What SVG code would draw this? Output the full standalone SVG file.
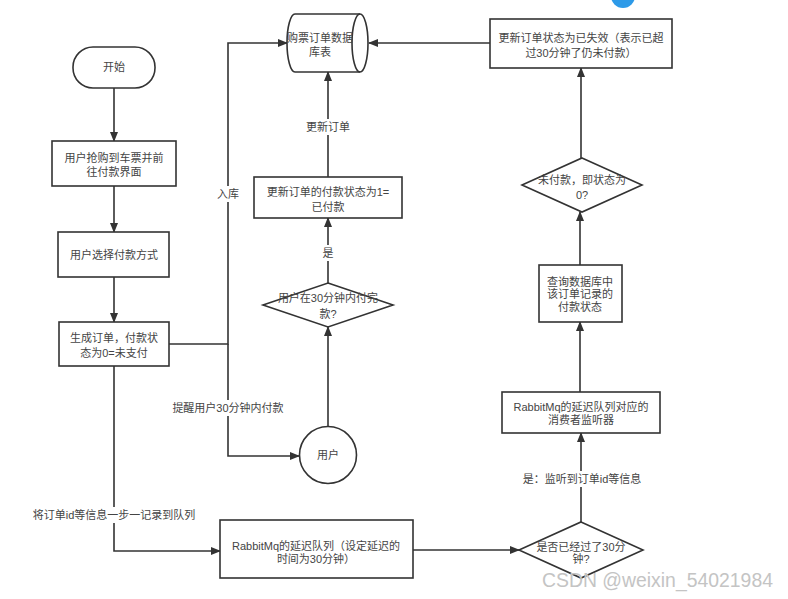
<svg xmlns="http://www.w3.org/2000/svg" width="788" height="599" viewBox="0 0 788 599">
<defs>
<marker id="ah" markerUnits="userSpaceOnUse" markerWidth="10" markerHeight="8" refX="9" refY="4" orient="auto">
<path d="M0,0 L10,4 L0,8 Z" fill="#333"/>
</marker>
<style>
.s{fill:#fff;stroke:#333;stroke-width:1.6}
.c{fill:none;stroke:#333;stroke-width:1.6}
.t{font-family:"Liberation Sans","Noto Sans CJK SC",sans-serif;font-size:11px;fill:#444;text-anchor:middle}
.bg{fill:#fff}
</style>
</defs>
<rect width="788" height="599" fill="#fff"/>
<circle cx="623" cy="-4" r="12" fill="#2d9ae8"/>
<g id="connectors">
<path class="c" d="M114,88 V141" marker-end="url(#ah)"/>
<path class="c" d="M114,186 V232" marker-end="url(#ah)"/>
<path class="c" d="M114,277 V322" marker-end="url(#ah)"/>
<path class="c" d="M169,344 H228 V43 H287" marker-end="url(#ah)"/>
<path class="c" d="M228,344 V456 H299" marker-end="url(#ah)"/>
<path class="c" d="M328,427 V327" marker-end="url(#ah)"/>
<path class="c" d="M328,283 V218" marker-end="url(#ah)"/>
<path class="c" d="M328,177 V72" marker-end="url(#ah)"/>
<path class="c" d="M114,366 V551 H220" marker-end="url(#ah)"/>
<path class="c" d="M413,550 H519" marker-end="url(#ah)"/>
<path class="c" d="M581,522 V433" marker-end="url(#ah)"/>
<path class="c" d="M580,392 V322" marker-end="url(#ah)"/>
<path class="c" d="M580,265 V212" marker-end="url(#ah)"/>
<path class="c" d="M581,158 V68" marker-end="url(#ah)"/>
<path class="c" d="M490,43 H369" marker-end="url(#ah)"/>
<rect class="bg" x="215" y="186" width="26" height="16"/>
<text class="t" x="228" y="198">入库</text>
<rect class="bg" x="171" y="400" width="114" height="16"/>
<text class="t" x="228" y="412">提醒用户30分钟内付款</text>
<rect class="bg" x="318" y="245" width="20" height="16"/>
<text class="t" x="328" y="257">是</text>
<rect class="bg" x="305" y="119" width="46" height="16"/>
<text class="t" x="328" y="131">更新订单</text>
<rect class="bg" x="32" y="507" width="164" height="16"/>
<text class="t" x="114" y="519">将订单id等信息一步一记录到队列</text>
<rect class="bg" x="520" y="471" width="124" height="16"/>
<text class="t" x="582" y="483">是：监听到订单id等信息</text>
</g>
<g id="start">
<rect class="s" x="73" y="47" width="82" height="41" rx="20" ry="20"/>
<text class="t" x="114" y="71">开始</text>
</g>
<g id="grab">
<rect class="s" x="52" y="141" width="124" height="45"/>
<text class="t" x="114" y="162">用户抢购到车票并前</text>
<text class="t" x="114" y="176">往付款界面</text>
</g>
<g id="choose">
<rect class="s" x="58" y="232" width="111" height="45"/>
<text class="t" x="114" y="259">用户选择付款方式</text>
</g>
<g id="create">
<rect class="s" x="59" y="322" width="110" height="44"/>
<text class="t" x="114" y="342">生成订单，付款状</text>
<text class="t" x="114" y="357">态为0=未支付</text>
</g>
<g id="db">
<path class="s" d="M295,14 H360 A8,29 0 0 1 360,72 H295 A8,29 0 0 1 295,14 Z"/>
<path class="c" d="M360,14 A8,29 0 0 0 360,72"/>
<text class="t" x="320" y="42">购票订单数据</text>
<text class="t" x="320" y="56">库表</text>
</g>
<g id="paid">
<rect class="s" x="254" y="177" width="148" height="41"/>
<text class="t" x="328" y="196">更新订单的付款状态为1=</text>
<text class="t" x="328" y="211">已付款</text>
</g>
<g id="check30">
<path class="s" d="M328,283 L393,305 L328,327 L263,305 Z"/>
<text class="t" x="328" y="302">用户在30分钟内付完</text>
<text class="t" x="328" y="318">款?</text>
</g>
<g id="user">
<circle class="s" cx="328" cy="455" r="28.5"/>
<text class="t" x="328" y="459">用户</text>
</g>
<g id="expired">
<rect class="s" x="490" y="19" width="182" height="49"/>
<text class="t" x="581" y="42">更新订单状态为已失效（表示已超</text>
<text class="t" x="581" y="57">过30分钟了仍未付款）</text>
</g>
<g id="unpaid">
<path class="s" d="M582,158 L642,185 L582,212 L522,185 Z"/>
<text class="t" x="582" y="184">未付款，即状态为</text>
<text class="t" x="582" y="199">0?</text>
</g>
<g id="query">
<rect class="s" x="539" y="265" width="83" height="57"/>
<text class="t" x="580" y="286">查询数据库中</text>
<text class="t" x="580" y="298">该订单记录的</text>
<text class="t" x="580" y="311">付款状态</text>
</g>
<g id="listener">
<rect class="s" x="502" y="392" width="158" height="41"/>
<text class="t" x="581" y="411">RabbitMq的延迟队列对应的</text>
<text class="t" x="581" y="424">消费者监听器</text>
</g>
<g id="queue">
<rect class="s" x="220" y="520" width="193" height="58"/>
<text class="t" x="316" y="550">RabbitMq的延迟队列（设定延迟的</text>
<text class="t" x="316" y="563">时间为30分钟）</text>
</g>
<g id="passed">
<path class="s" d="M581,522 L643,550 L581,578 L519,550 Z"/>
<text class="t" x="581" y="551">是否已经过了30分</text>
<text class="t" x="581" y="563">钟?</text>
</g>
<text x="542" y="587" font-family="Liberation Sans, Arial, sans-serif" font-size="19.4" fill="#c4c4c4">CSDN @weixin_54021984</text>
</svg>
